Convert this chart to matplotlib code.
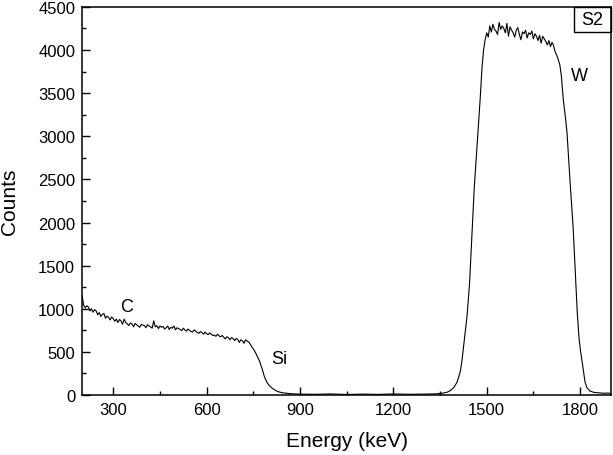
import numpy as np
import matplotlib
matplotlib.use("Agg")
import matplotlib.pyplot as plt
from matplotlib.patches import Rectangle

plt.rcParams['font.family'] = ['Liberation Sans', 'DejaVu Sans']

# C / Si plateau, 200-750 keV, 5 keV channels
e_low = np.arange(200, 751, 5)
c_low = [1150, 1040, 1010, 1035, 1020, 975, 1000, 960, 990, 975,
         930, 955, 910, 935, 945, 890, 915, 900, 870, 905,
         885, 855, 880, 840, 875, 860, 820, 880, 840, 825,
         805, 835, 825, 790, 830, 815, 800, 785, 820, 810,
         805, 780, 815, 800, 790, 775, 860, 790, 805, 770,
         800, 785, 795, 765, 780, 800, 760, 785, 775, 800,
         755, 780, 770, 760, 745, 775, 755, 740, 765, 750,
         735, 730, 755, 740, 725, 715, 735, 725, 705, 730,
         710, 700, 720, 705, 690, 695, 680, 705, 685, 675,
         690, 670, 650, 675, 665, 640, 665, 655, 630, 655,
         645, 610, 640, 630, 600, 640, 625, 615, 590, 560,
         535]

# Si edge, background and W leading edge
e_mid = [755, 760, 765, 770, 775, 780, 785, 790, 795, 800, 810, 820, 830, 845,
         870, 900, 950, 1000, 1050, 1100, 1150, 1200, 1250, 1300, 1340, 1360,
         1375, 1385, 1395, 1405, 1415, 1420, 1425, 1430, 1437, 1445, 1453,
         1460, 1470, 1479, 1485, 1490]
c_mid = [505, 470, 430, 395, 340, 285, 220, 175, 140, 115, 80, 55, 38, 25,
         15, 10, 8, 12, 6, 10, 7, 12, 8, 10, 14, 22,
         35, 55, 90, 150, 270, 380, 540, 700, 920, 1300, 1900,
         2400, 2950, 3430, 3800, 4000]

# W plateau, 1495-1740 keV
e_w = np.arange(1495, 1741, 5)
c_w = [4120, 4200, 4150, 4280, 4210, 4300, 4240, 4220, 4180, 4320,
       4240, 4280, 4250, 4200, 4310, 4160, 4270, 4230, 4200, 4150,
       4230, 4260, 4180, 4120, 4210, 4190, 4230, 4140, 4200, 4180,
       4220, 4130, 4190, 4160, 4110, 4170, 4080, 4160, 4130, 4100,
       4060, 4110, 4040, 4090, 4050, 3980, 3940, 3890, 3830, 3700]

# W trailing edge and tail
e_hi = [1746, 1752, 1758, 1763, 1768, 1773, 1778, 1785, 1791, 1797, 1802,
        1807, 1812, 1816, 1822, 1832, 1845, 1860, 1875, 1890, 1900]
c_hi = [3430, 3250, 3050, 2750, 2470, 2200, 1930, 1400, 960, 650, 500,
        380, 250, 150, 85, 45, 30, 25, 20, 22, 18]

energy = np.concatenate([e_low, e_mid, e_w, e_hi])
counts = np.concatenate([c_low, c_mid, c_w, c_hi])

fig = plt.figure(figsize=(6.13, 4.56), dpi=100)
ax = fig.add_axes([0.134, 0.1316, 0.863, 0.851])
ax.plot(energy, counts, color='black', lw=0.8)

ax.set_xlim(200, 1900)
ax.set_ylim(0, 4500)
ax.set_xticks([300, 600, 900, 1200, 1500, 1800])
ax.set_xticks([450, 750, 1050, 1350, 1650], minor=True)
ax.set_yticks(np.arange(0, 4501, 500))
ax.set_yticks(np.arange(250, 4500, 500), minor=True)
ax.tick_params(which='major', direction='in', length=6, width=1, labelsize=12, pad=5)
ax.tick_params(which='minor', direction='in', length=3, width=1)
for s in ax.spines.values():
    s.set_linewidth(1.1)

ax.set_xlabel('Energy (keV)', fontsize=15, labelpad=10)
ax.set_ylabel('Counts', fontsize=15, labelpad=14)

ax.text(342, 1030, 'C', fontsize=13, ha='center', va='center')
ax.text(834, 418, 'Si', fontsize=13, ha='center', va='center')
ax.text(1797, 3700, 'W', fontsize=13, ha='center', va='center')

ax.add_patch(Rectangle((0.93, 0.936), 0.07, 0.064, transform=ax.transAxes,
                       fill=False, ec='black', lw=1, clip_on=False))
ax.text(0.965, 0.968, 'S2', transform=ax.transAxes, fontsize=13,
        ha='center', va='center')

fig.savefig('out.png', dpi=100)
